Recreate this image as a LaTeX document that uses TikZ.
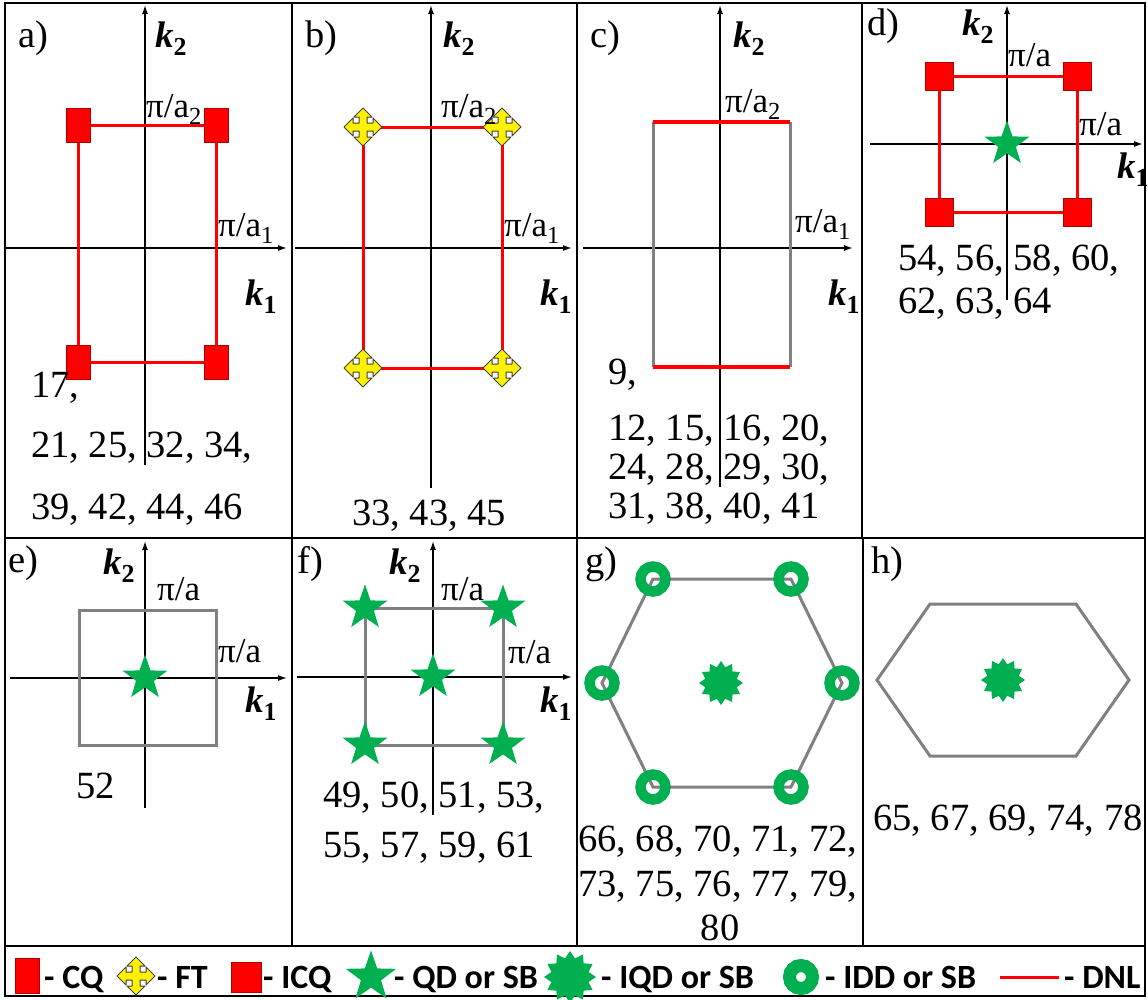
\documentclass[tikz,border=0pt]{standalone}
\usepackage{fontspec}
\setmainfont{Liberation Serif}
\newfontfamily\legfont{Carlito}
\usetikzlibrary{arrows.meta,shapes.geometric}
\definecolor{qdgreen}{HTML}{00B050}
\definecolor{bzgray}{HTML}{808080}
\definecolor{cqred}{HTML}{FF0000}
\definecolor{cqedge}{HTML}{B00000}
\newcommand\numfnt{\fontsize{38.5}{46}\selectfont}
\newcommand\kfnt{\fontsize{37}{44}\selectfont}
\newcommand\pifnt{\fontsize{35}{42}\selectfont}
\newcommand\legfnt{\fontsize{34}{40}\selectfont\legfont\bfseries}
\newcommand\kk[1]{{\bfseries\itshape k}\textsubscript{\bfseries #1}}
\tikzset{
  frame/.style={draw=black, line width=1.8pt},
  axis/.style={draw=black, line width=1.5pt, -{Latex[length=9pt,width=6pt]}},
  dnl/.style={draw=cqred, line width=3pt},
  dnlthick/.style={draw=cqred, line width=4pt},
  bz/.style={draw=bzgray, line width=3pt},
  txt/.style={anchor=base west, inner sep=0pt, font=\numfnt},
  ktxt/.style={anchor=base west, inner sep=0pt, font=\kfnt},
  pitxt/.style={anchor=base west, inner sep=0pt, font=\pifnt},
  legtxt/.style={anchor=base west, inner sep=0pt, font=\legfnt},
  cqmark/.style={rectangle, fill=cqred, draw=cqedge, line width=1pt, minimum width=24pt, minimum height=34pt, inner sep=0pt},
  icqmark/.style={rectangle, fill=cqred, draw=cqedge, line width=1pt, minimum width=28pt, minimum height=28pt, inner sep=0pt},
  qdmark/.style={star, star points=5, star point ratio=2.5, fill=qdgreen, minimum size=47pt, inner sep=0pt},
  iqdmark/.style={star, star points=12, star point ratio=1.35, fill=qdgreen, minimum size=44pt, inner sep=0pt},
  iddmark/.style={circle, draw=qdgreen, line width=10.5pt, minimum size=25pt, inner sep=0pt},
  ftmark/.pic={
    \filldraw[fill=yellow, draw=black!75, line width=1pt, line join=round]
      (19,0) -- (10,9) -- (10,4) -- (4,4) -- (4,10) -- (9,10) -- (0,19)
      -- (-9,10) -- (-4,10) -- (-4,4) -- (-10,4) -- (-10,9) -- (-19,0)
      -- (-10,-9) -- (-10,-4) -- (-4,-4) -- (-4,-10) -- (-9,-10) -- (0,-19)
      -- (9,-10) -- (4,-10) -- (4,-4) -- (10,-4) -- (10,-9) -- cycle;
  }
}
\begin{document}
\begin{tikzpicture}[x=1pt,y=-1pt]
\useasboundingbox (0,0) rectangle (1148,999);
% ---------- frames
\draw[frame] (5,3) rectangle (292,538);
\draw[frame] (292,3) rectangle (577,538);
\draw[frame] (577,3) rectangle (862,538);
\draw[frame] (862,3) rectangle (1145,538);
\draw[frame] (5,538) rectangle (292,946);
\draw[frame] (292,538) rectangle (577,946);
\draw[frame] (577,538) rectangle (863,946);
\draw[frame] (863,538) rectangle (1145,946);
\draw[frame] (5,946) rectangle (1145,996);

% ---------- panel a
\coordinate (aYs) at (145,465); \coordinate (aYe) at (145,5);
\coordinate (aXs) at (5,248);   \coordinate (aXe) at (287,248);
\draw[axis] (aYs) -- (aYe);
\draw[axis] (aXs) -- (aXe);
\coordinate (a1) at (78,125); \coordinate (a2) at (216,125);
\coordinate (a3) at (216,362); \coordinate (a4) at (78,362);
\draw[dnl] (a1) -- (a2) -- (a3) -- (a4) -- cycle;
\node[cqmark] (aM1) at (a1) {}; \node[cqmark] (aM2) at (a2) {};
\node[cqmark] (aM3) at (a3) {}; \node[cqmark] (aM4) at (a4) {};
\node[txt] (aL) at (18,47) {a)};
\node[ktxt] (aK2) at (155,47) {\kk{2}};
\node[ktxt] (aK1) at (245,305) {\kk{1}};
\node[pitxt] (aP2) at (146,117) {π/a\textsubscript{2}};
\node[pitxt] (aP1) at (218,236) {π/a\textsubscript{1}};
\node[txt] (aN1) at (31,397) {17,};
\node[txt] (aN2) at (31,457) {21, 25, 32, 34,};
\node[txt] (aN3) at (31,519) {39, 42, 44, 46};

% ---------- panel b
\coordinate (bYs) at (431,488); \coordinate (bYe) at (431,5);
\coordinate (bXs) at (295,248); \coordinate (bXe) at (572,248);
\draw[axis] (bYs) -- (bYe);
\draw[axis] (bXs) -- (bXe);
\coordinate (b1) at (363,127); \coordinate (b2) at (502,127);
\coordinate (b3) at (502,368); \coordinate (b4) at (363,368);
\draw[dnl] (b1) -- (b2) -- (b3) -- (b4) -- cycle;
\pic at (b1) {ftmark}; \pic at (b2) {ftmark};
\pic at (b3) {ftmark}; \pic at (b4) {ftmark};
\node[txt] (bL) at (305,47) {b)};
\node[ktxt] (bK2) at (443,47) {\kk{2}};
\node[ktxt] (bK1) at (540,305) {\kk{1}};
\node[pitxt] (bP2) at (441,117) {π/a\textsubscript{2}};
\node[pitxt] (bP1) at (504,236) {π/a\textsubscript{1}};
\node[txt, anchor=base] (bN1) at (429,525) {33, 43, 45};

% ---------- panel c
\coordinate (cYs) at (720,487); \coordinate (cYe) at (720,5);
\coordinate (cXs) at (583,248); \coordinate (cXe) at (853,248);
\draw[axis] (cYs) -- (cYe);
\draw[axis] (cXs) -- (cXe);
\coordinate (c1) at (653,122); \coordinate (c2) at (790,122);
\coordinate (c3) at (790,367); \coordinate (c4) at (653,367);
\draw[bz] (c2) -- (c3);
\draw[bz] (c4) -- (c1);
\draw[dnlthick] (c1) -- (c2);
\draw[dnlthick] (c3) -- (c4);
\node[txt] (cL) at (590,47) {c)};
\node[ktxt] (cK2) at (733,47) {\kk{2}};
\node[ktxt] (cK1) at (828,305) {\kk{1}};
\node[pitxt] (cP2) at (725,112) {π/a\textsubscript{2}};
\node[pitxt] (cP1) at (795,232) {π/a\textsubscript{1}};
\node[txt] (cN1) at (608,384) {9,};
\node[txt] (cN2) at (608,440) {12, 15, 16, 20,};
\node[txt] (cN3) at (608,479) {24, 28, 29, 30,};
\node[txt] (cN4) at (608,518) {31, 38, 40, 41};

% ---------- panel d
\coordinate (dYs) at (1007,300); \coordinate (dYe) at (1007,5);
\coordinate (dXs) at (870,144);  \coordinate (dXe) at (1143,144);
\draw[axis] (dYs) -- (dYe);
\draw[axis] (dXs) -- (dXe);
\coordinate (d1) at (939,76); \coordinate (d2) at (1077,76);
\coordinate (d3) at (1077,212); \coordinate (d4) at (939,212);
\draw[dnl] (d1) -- (d2) -- (d3) -- (d4) -- cycle;
\node[icqmark] (dM1) at (d1) {}; \node[icqmark] (dM2) at (d2) {};
\node[icqmark] (dM3) at (d3) {}; \node[icqmark] (dM4) at (d4) {};
\node[qdmark] (dS) at (1007,144) {};
\node[txt] (dL) at (867,35) {d)};
\node[ktxt] (dK2) at (962,35) {\kk{2}};
\node[ktxt] (dK1) at (1117,178) {\kk{1}};
\node[pitxt] (dP2) at (1008,66) {π/a};
\node[pitxt] (dP1) at (1079,135) {π/a};
\node[txt] (dN1) at (898,270) {54, 56, 58, 60,};
\node[txt] (dN2) at (898,313) {62, 63, 64};

% ---------- panel e
\coordinate (eYs) at (145,808); \coordinate (eYe) at (145,541);
\coordinate (eXs) at (10,678);  \coordinate (eXe) at (287,678);
\draw[axis] (eYs) -- (eYe);
\draw[axis] (eXs) -- (eXe);
\coordinate (e1) at (79,610); \coordinate (e2) at (216,610);
\coordinate (e3) at (216,745); \coordinate (e4) at (79,745);
\draw[bz] (e1) -- (e2) -- (e3) -- (e4) -- cycle;
\node[qdmark] (eS) at (145,678) {};
\node[txt] (eL) at (8,572) {e)};
\node[ktxt] (eK2) at (103,574) {\kk{2}};
\node[ktxt] (eK1) at (245,712) {\kk{1}};
\node[pitxt] (eP2) at (157,600) {π/a};
\node[pitxt] (eP1) at (218,662) {π/a};
\node[txt] (eN1) at (76,798) {52};

% ---------- panel f
\coordinate (fYs) at (433,815); \coordinate (fYe) at (433,541);
\coordinate (fXs) at (297,677); \coordinate (fXe) at (572,677);
\draw[axis] (fYs) -- (fYe);
\draw[axis] (fXs) -- (fXe);
\coordinate (f1) at (365,608); \coordinate (f2) at (503,608);
\coordinate (f3) at (503,745); \coordinate (f4) at (365,745);
\draw[bz] (f1) -- (f2) -- (f3) -- (f4) -- cycle;
\node[qdmark] (fS1) at (f1) {}; \node[qdmark] (fS2) at (f2) {};
\node[qdmark] (fS3) at (f3) {}; \node[qdmark] (fS4) at (f4) {};
\node[qdmark] (fS0) at (433,677) {};
\node[txt] (fL) at (297,573) {f)};
\node[ktxt] (fK2) at (389,574) {\kk{2}};
\node[ktxt] (fK1) at (540,712) {\kk{1}};
\node[pitxt] (fP2) at (441,600) {π/a};
\node[pitxt] (fP1) at (508,663) {π/a};
\node[txt] (fN1) at (323,807) {49, 50, 51, 53,};
\node[txt] (fN2) at (323,857) {55, 57, 59, 61};

% ---------- panel g
\coordinate (g1) at (653,579); \coordinate (g2) at (791,579);
\coordinate (g3) at (842,683); \coordinate (g4) at (791,787);
\coordinate (g5) at (653,787); \coordinate (g6) at (602,683);
\draw[bz] (g1) -- (g2) -- (g3) -- (g4) -- (g5) -- (g6) -- cycle;
\foreach \i in {1,...,6} { \node[iddmark] (gR\i) at (g\i) {}; }
\node[iqdmark] (gS) at (721,683) {};
\node[txt] (gL) at (585,573) {g)};
\node[txt] (gN1) at (578,851) {66, 68, 70, 71, 72,};
\node[txt] (gN2) at (578,896) {73, 75, 76, 77, 79,};
\node[txt, anchor=base] (gN3) at (720,940) {80};

% ---------- panel h
\coordinate (h1) at (930,604); \coordinate (h2) at (1076,604);
\coordinate (h3) at (1129,680); \coordinate (h4) at (1076,756);
\coordinate (h5) at (930,756); \coordinate (h6) at (877,680);
\draw[bz] (h1) -- (h2) -- (h3) -- (h4) -- (h5) -- (h6) -- cycle;
\node[iqdmark] (hS) at (1003,680) {};
\node[txt] (hL) at (871,573) {h)};
\node[txt] (hN1) at (873,830) {65, 67, 69, 74, 78};

% ---------- legend
\node[cqmark, minimum height=35pt] (lCQ) at (27,976) {};
\node[legtxt] (lCQt) at (44,988) {- CQ};
\pic at (136,976) {ftmark};
\node[legtxt] (lFTt) at (157,988) {- FT};
\node[icqmark, minimum width=30pt, minimum height=30pt] (lICQ) at (246,977) {};
\node[legtxt] (lICQt) at (263,988) {- ICQ};
\node[qdmark, minimum size=53pt] (lQD) at (371,977) {};
\node[legtxt] (lQDt) at (394,988) {- QD or SB};
\node[iqdmark, minimum size=52pt] (lIQD) at (570,977) {};
\node[legtxt] (lIQDt) at (601,988) {- IQD or SB};
\node[iddmark, line width=13pt, minimum size=23pt] (lIDD) at (801,977) {};
\node[legtxt] (lIDDt) at (825,988) {- IDD or SB};
\coordinate (lD1) at (1000,977); \coordinate (lD2) at (1059,977);
\draw[dnl] (lD1) -- (lD2);
\node[legtxt] (lDNLt) at (1064,988) {- DNL};
\end{tikzpicture}
\end{document}
